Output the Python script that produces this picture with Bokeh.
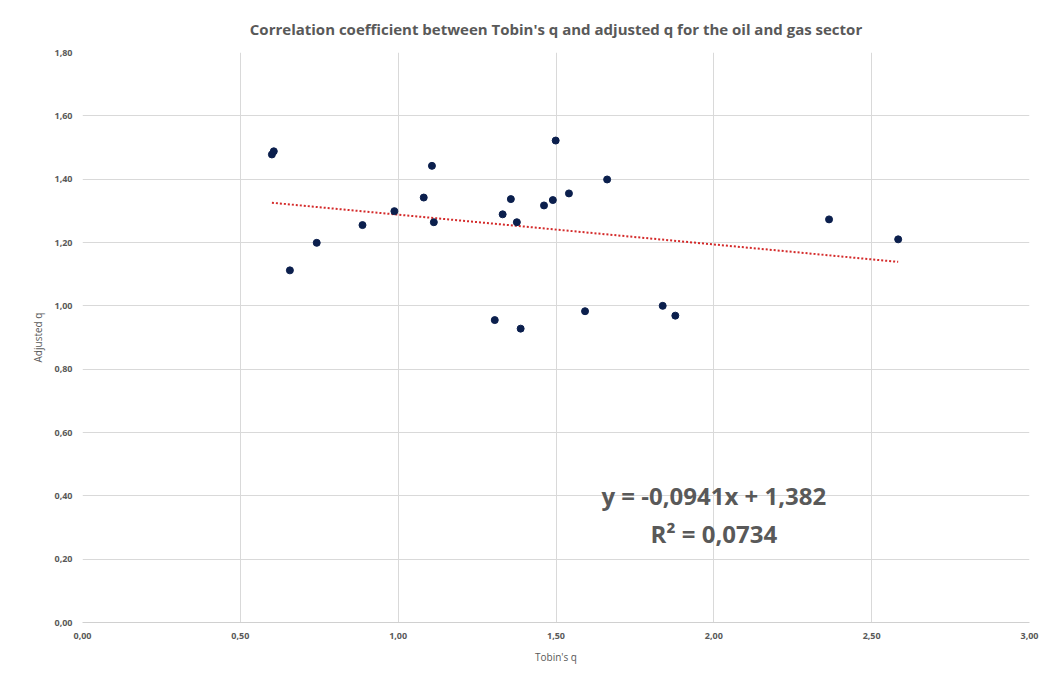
from bokeh.plotting import figure
from bokeh.models import ColumnDataSource, Label, CustomJSTickFormatter, FixedTicker, Range1d
from bokeh.embed import file_html
from bokeh.resources import INLINE

# Data
tobins_q = [0.600, 0.606, 0.657, 0.742, 0.887, 0.988, 1.081, 1.107, 1.113, 1.306,
            1.331, 1.357, 1.376, 1.388, 1.462, 1.490, 1.499, 1.541, 1.592, 1.662,
            1.838, 1.878, 2.365, 2.584]
adjusted_q = [1.478, 1.488, 1.112, 1.199, 1.255, 1.299, 1.342, 1.442, 1.264, 0.955,
              1.289, 1.337, 1.264, 0.928, 1.317, 1.334, 1.522, 1.355, 0.983, 1.399,
              1.000, 0.969, 1.273, 1.210]
trend_slope = -0.0941
trend_intercept = 1.382
r_squared = 0.0734
x_ticks = [0.0, 0.5, 1.0, 1.5, 2.0, 2.5, 3.0]
y_ticks = [0.0, 0.2, 0.4, 0.6, 0.8, 1.0, 1.2, 1.4, 1.6, 1.8]

TXT = "#595959"
FONT = "Open Sans"

p = figure(width=1043, height=683, output_backend="svg", toolbar_location=None,
           x_range=Range1d(0, 3), y_range=Range1d(0, 1.8),
           min_border_left=82, min_border_right=14, min_border_top=52, min_border_bottom=61)
p.title.text = "Correlation coefficient between Tobin's q and adjusted q for the oil and gas sector"
p.title.align = "center"
p.title.text_font = FONT
p.title.text_font_size = "15px"
p.title.text_font_style = "bold"
p.title.text_color = TXT
p.title.standoff = 28
p.outline_line_color = None
p.background_fill_color = "white"
p.border_fill_color = "white"

fmt = CustomJSTickFormatter(code="return tick.toFixed(2).replace('.', ',');")
for ax, ticks in ((p.xaxis[0], x_ticks), (p.yaxis[0], y_ticks)):
    ax.ticker = FixedTicker(ticks=ticks)
    ax.formatter = fmt
    ax.major_tick_in = 0
    ax.major_tick_out = 0
    ax.minor_tick_in = 0
    ax.minor_tick_out = 0
    ax.major_label_text_font = FONT
    ax.major_label_text_font_size = "9px"
    ax.major_label_text_font_style = "bold"
    ax.major_label_text_color = TXT
    ax.axis_label_text_font = FONT
    ax.axis_label_text_font_size = "10px"
    ax.axis_label_text_font_style = "normal"
    ax.axis_label_text_color = TXT
p.xaxis[0].axis_label = "Tobin's q"
p.yaxis[0].axis_label = "Adjusted q"
p.xaxis[0].axis_line_color = "#d0d0d0"
p.yaxis[0].axis_line_color = None
p.xaxis[0].major_label_standoff = 10
p.yaxis[0].major_label_standoff = 10
p.xaxis[0].axis_label_standoff = 8
p.yaxis[0].axis_label_standoff = 6

p.xgrid.ticker = FixedTicker(ticks=x_ticks)
p.ygrid.ticker = FixedTicker(ticks=y_ticks)
p.xgrid.grid_line_color = "#d9d9d9"
p.ygrid.grid_line_color = "#d9d9d9"

# Trend line from the equation
x0, x1 = min(tobins_q), max(tobins_q)
p.line([x0, x1], [trend_slope * x0 + trend_intercept, trend_slope * x1 + trend_intercept],
       line_color="#d42a2a", line_width=2, line_dash="2 2")

src = ColumnDataSource(dict(x=tobins_q, y=adjusted_q))
p.scatter("x", "y", source=src, size=7, fill_color="#0b1f4d", line_color="#0b1f4d")

eq1 = "y = {:.4f}x + {:.3f}".format(trend_slope, trend_intercept).replace(".", ",")
eq2 = "R² = {:.4f}".format(r_squared).replace(".", ",")
p.add_layout(Label(x=2.0, y=0.402, text=eq1, text_align="center", text_baseline="middle",
                   text_font=FONT, text_font_size="24px", text_font_style="bold", text_color=TXT))
p.add_layout(Label(x=2.0, y=0.282, text=eq2, text_align="center", text_baseline="middle",
                   text_font=FONT, text_font_size="24px", text_font_style="bold", text_color=TXT))

open("out.html", "w").write(file_html(p, INLINE))
